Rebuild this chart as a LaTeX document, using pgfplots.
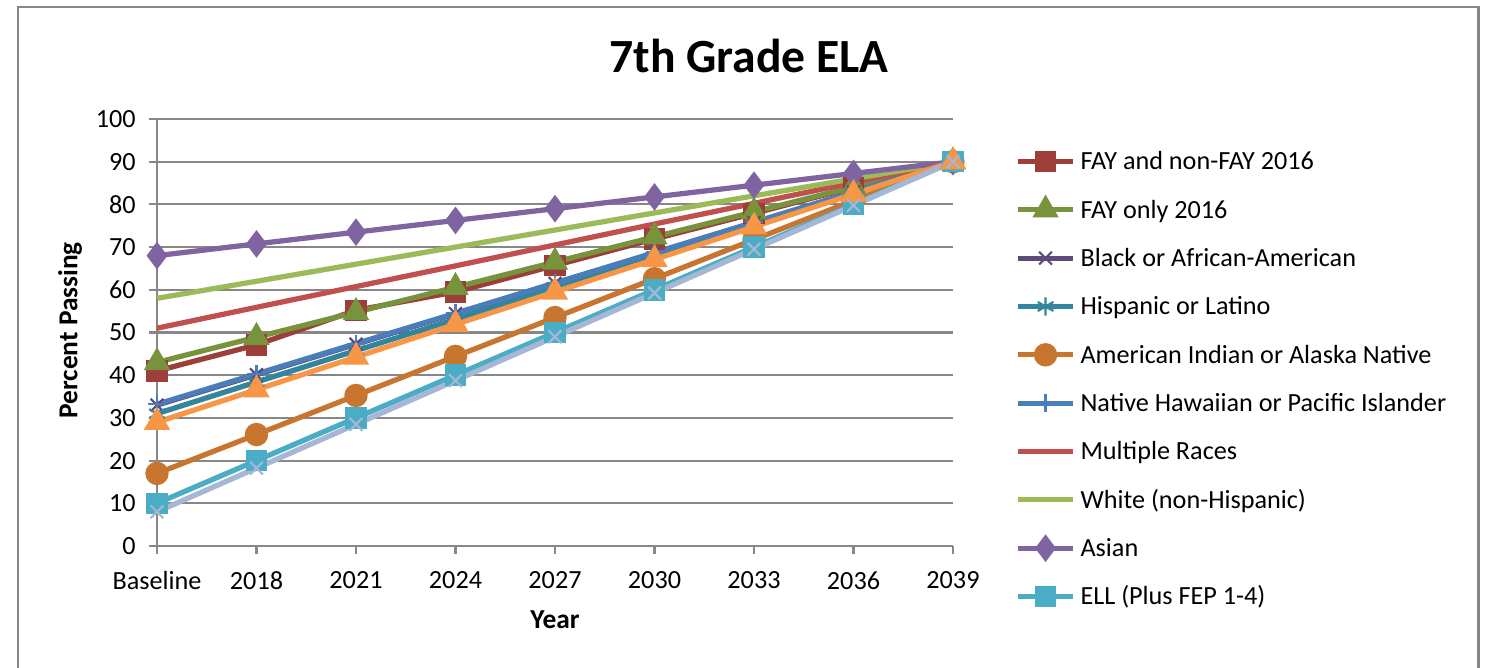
\documentclass[border=0pt]{standalone}
\usepackage{fontspec}
\setmainfont{Carlito}
\usepackage{pgfplots}
\pgfplotsset{compat=1.18}

\definecolor{framegray}{HTML}{868686}
\definecolor{axisgray}{HTML}{878787}
\definecolor{cFAY}{HTML}{9E3E3A}
\definecolor{cFAYonly}{HTML}{77933C}
\definecolor{cBlack}{HTML}{604A7B}
\definecolor{cHisp}{HTML}{31859C}
\definecolor{cAmInd}{HTML}{C8762F}
\definecolor{cNH}{HTML}{4A7EBB}
\definecolor{cMulti}{HTML}{C0504D}
\definecolor{cWhite}{HTML}{9BBB59}
\definecolor{cAsian}{HTML}{8064A2}
\definecolor{cELL}{HTML}{4BACC6}
\definecolor{cOrange}{HTML}{F79646}
\definecolor{cLav}{HTML}{A6B6D5}

\begin{document}
\begin{tikzpicture}
% 1 px of the reference = 0.42pt, origin at the axis corner
\useasboundingbox (-65.94pt,-51.24pt) rectangle (558.18pt,229.32pt);
\draw[framegray, line width=1.2pt] (-58.4pt,-60pt) -- (-58.4pt,226.4pt) -- (555.2pt,226.4pt) -- (555.2pt,-60pt);
\begin{axis}[
  at={(0,0)}, anchor=south west,
  scale only axis, width=334.32pt, height=179.34pt,
  xmin=0, xmax=8, ymin=0, ymax=100,
  clip=false,
  axis x line*=bottom, axis y line*=left,
  axis line style={axisgray, line width=0.9pt},
  tick align=outside, major tick length=3.4pt,
  tick style={axisgray, line width=0.9pt},
  ymajorgrids, grid style={axisgray, line width=0.9pt},
  xtick={0,...,8},
  xticklabels={Baseline,2018,2021,2024,2027,2030,2033,2036,2039},
  ytick={0,10,...,100},
  /pgf/number format/assume math mode=true,
  ticklabel style={font=\fontsize{11}{13}\selectfont},
  xticklabel style={yshift=-3.8pt},
  yticklabel style={xshift=-2pt},
  title={7th Grade ELA},
  title style={at={(axis description cs:0.7437,1.113)}, anchor=center,
    font=\bfseries\fontsize{20}{24}\selectfont},
  xlabel={Year},
  xlabel style={at={(axis description cs:0.5,-0.1729)}, anchor=center,
    font=\bfseries\fontsize{11.5}{13}\selectfont},
  ylabel={Percent Passing},
  ylabel style={at={(axis description cs:-0.1092,0.505)}, anchor=center,
    font=\bfseries\fontsize{11.5}{13}\selectfont},
  every axis plot/.append style={line width=2.2pt},
  legend style={at={(axis description cs:1.078,0.9295)}, anchor=north west,
    draw=none, fill=none, inner sep=0pt, row sep=10.3pt, column sep=2.1pt,
    nodes={inner sep=0pt, text height=8.5pt, text depth=1.5pt},
    font=\fontsize{11}{13}\selectfont},
  legend cell align=left,
  legend image code/.code={\draw[mark repeat=2,mark phase=2,#1]
    plot coordinates {(0pt,0pt) (11.5pt,0pt) (23pt,0pt)};},
]
\addplot[cFAY, mark=square*, mark size=3.4pt, mark options={solid}] coordinates {
  (0,41) (1,47.1) (2,55.2) (3,59.5) (4,65.7) (5,71.9) (6,77.9) (7,84) (8,90)};
\addlegendentry{FAY and non-FAY 2016}
\addplot[cFAYonly, mark=triangle*, mark size=4.2pt, mark options={solid}] coordinates {
  (0,43) (1,48.9) (2,54.75) (3,60.6) (4,66.5) (5,72.4) (6,78.25) (7,84.1) (8,90)};
\addlegendentry{FAY only 2016}
\addplot[cBlack, mark=x, mark size=3.8pt, mark options={solid, line width=0.9pt}] coordinates {
  (0,33) (1,40.1) (2,47.25) (3,54.4) (4,61.5) (5,68.6) (6,75.75) (7,82.9) (8,90)};
\addlegendentry{Black or African-American}
\addplot[cHisp, mark=asterisk, mark size=3.8pt, mark options={solid, line width=0.9pt}] coordinates {
  (0,31) (1,38.4) (2,45.75) (3,53.1) (4,60.5) (5,67.9) (6,75.25) (7,82.6) (8,90)};
\addlegendentry{Hispanic or Latino}
\addplot[cAmInd, mark=*, mark size=3.8pt, mark options={solid}] coordinates {
  (0,17) (1,26.1) (2,35.25) (3,44.4) (4,53.5) (5,62.6) (6,71.75) (7,80.9) (8,90)};
\addlegendentry{American Indian or Alaska Native}
\addplot[cNH, mark=+, mark size=3.8pt, mark options={solid, line width=0.9pt}] coordinates {
  (0,33.2) (1,40.3) (2,47.4) (3,54.5) (4,61.6) (5,68.7) (6,75.8) (7,82.9) (8,90)};
\addlegendentry{Native Hawaiian or Pacific Islander}
\addplot[cMulti, no marks] coordinates {
  (0,51) (1,55.9) (2,60.75) (3,65.6) (4,70.5) (5,75.4) (6,80.25) (7,85.1) (8,90)};
\addlegendentry{Multiple Races}
\addplot[cWhite, no marks] coordinates {
  (0,58) (1,62) (2,66) (3,70) (4,74) (5,78) (6,82) (7,86) (8,90)};
\addlegendentry{White (non-Hispanic)}
\addplot[cAsian, mark=diamond*, mark size=4pt, mark options={solid}] coordinates {
  (0,68) (1,70.75) (2,73.5) (3,76.25) (4,79) (5,81.75) (6,84.5) (7,87.25) (8,90)};
\addlegendentry{Asian}
\addplot[cELL, mark=square*, mark size=3.4pt, mark options={solid}] coordinates {
  (0,10) (1,20) (2,30) (3,40) (4,50) (5,60) (6,70) (7,80) (8,90)};
\addlegendentry{ELL (Plus FEP 1-4)}
\addplot[cOrange, mark=triangle*, mark size=4.2pt, mark options={solid}, forget plot] coordinates {
  (0,29) (1,36.6) (2,44.25) (3,51.9) (4,59.5) (5,67.1) (6,74.75) (7,82.4) (8,90)};
\addplot[cLav, mark=x, mark size=3.8pt, mark options={solid, line width=0.9pt}, forget plot] coordinates {
  (0,8) (1,18.25) (2,28.5) (3,38.75) (4,49) (5,59.25) (6,69.5) (7,79.75) (8,90)};
\end{axis}
\end{tikzpicture}
\end{document}
